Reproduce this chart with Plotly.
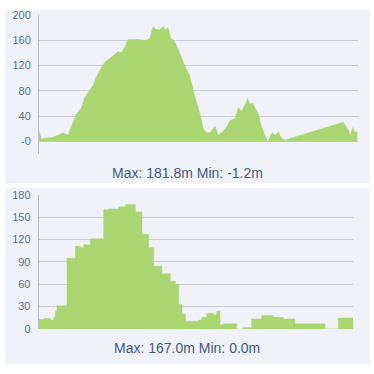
import plotly.graph_objects as go

# ---- data ----
top_dist = [0, 2.3, 5.7, 12.3, 19, 24, 29, 32.3, 37.3, 42.3,
            45.7, 50.7, 54, 57.3, 62.3, 65.7, 70.7, 75.7, 79, 82.3,
            85.7, 89, 99, 107.3, 110.7, 114, 117.3, 120.7, 124, 126.3,
            129, 131.7, 135.7, 140.7, 145.7, 150.7, 156, 161, 164.3, 167.7,
            171, 176, 179.3, 182.7, 187.7, 191, 196, 199.3, 202.7, 206,
            208.7, 211, 213.3, 216, 219.3, 222.7, 226, 228.7, 231, 233.3,
            236, 239.3, 242, 244.3, 246, 304.3, 309.3, 311.3, 313.7, 315.3,
            318.3]
top_elev = [17, 3.5, 5, 6, 10, 13.7, 10, 23, 43, 53,
            69, 81, 88, 102, 117, 125, 131, 137, 142, 140,
            148, 161, 161, 159, 163, 181, 177, 176, 181.8, 175,
            180, 163, 158, 140, 120, 104, 70, 43, 20, 14,
            14, 24, 10, 14, 23, 33, 36, 53, 48, 58,
            68, 58, 61, 53, 43, 23, 8, -1.2, 8, 14,
            10, 15, 6, 4, 2.5, 30.5, 18, 9, 22, 15,
            15]

bot_dist = [0, 5, 11.7, 15, 16.7, 18.3, 28.3, 36.7, 41.7, 45,
            51.7, 65, 70, 80, 86.7, 96.7, 103.3, 110, 115, 123.3,
            131.7, 136.7, 140, 143.3, 146.7, 159.6, 163, 168, 174.6, 178,
            181.3, 184.6, 198, 204.6, 213, 223, 234.6, 244.6, 256.3, 286.3,
            299.6, 314.3]
bot_elev = [12.6, 14, 12, 16, 24, 31, 95, 111, 109, 113,
            121, 160, 161, 164, 167, 157, 127, 109, 84, 74,
            64, 60, 33, 20, 10.5, 12, 15.6, 21, 19, 24,
            5.7, 7, 0, 1.8, 13.5, 18, 15.6, 13.5, 7, 0,
            14.8, 14.8]

top_ticks = [0, 40, 80, 120, 160, 200]
top_ticktext = ["-0", "40", "80", "120", "160", "200"]
bot_ticks = [0, 30, 60, 90, 120, 150, 180]

top_caption = "Max: 181.8m Min: -1.2m"
bot_caption = "Max: 167.0m Min: 0.0m"

# ---- style ----
W = H = 374
PANEL = "#eff3f9"
GREEN = "#aad671"
GRID = "#c9cdd6"
TICK = "#5d6d8c"
CAPTION = "#45597e"
FONT = "Liberation Sans, Arial, sans-serif"

def px(v):
    return v / W

def py(v):
    return 1 - v / H

fig = go.Figure()
fig.add_trace(go.Scatter(x=top_dist, y=top_elev, mode="lines", fill="tozeroy",
                         line=dict(color=GREEN, width=0.5), fillcolor=GREEN,
                         xaxis="x", yaxis="y", hoverinfo="skip"))
fig.add_trace(go.Scatter(x=bot_dist, y=bot_elev, mode="lines", fill="tozeroy",
                         line=dict(color=GREEN, width=0.5, shape="hv"), fillcolor=GREEN,
                         xaxis="x2", yaxis="y2", hoverinfo="skip"))

yax_common = dict(showgrid=True, gridcolor=GRID, gridwidth=1, zeroline=False,
                  showline=True, linecolor="#b9bdc6", linewidth=1,
                  ticks="outside", ticklen=5, tickcolor="rgba(0,0,0,0)",
                  tickfont=dict(family=FONT, size=11, color=TICK), fixedrange=True)
xax_common = dict(showgrid=False, zeroline=False, showline=False,
                  showticklabels=False, ticks="", fixedrange=True)

fig.update_layout(
    width=W, height=H,
    margin=dict(l=0, r=0, t=0, b=0),
    paper_bgcolor="white",
    plot_bgcolor=PANEL,
    showlegend=False,
    xaxis=dict(domain=[px(39), px(358)], range=[0, 319], anchor="y", **xax_common),
    yaxis=dict(domain=[py(153.1), py(9)], range=[-20, 200], anchor="x",
               tickvals=top_ticks, ticktext=top_ticktext, **yax_common),
    xaxis2=dict(domain=[px(38.7), px(353)], range=[0, 314.3], anchor="y2", **xax_common),
    yaxis2=dict(domain=[py(333.7), py(195)], range=[0, 180], anchor="x2",
                tickvals=bot_ticks, **yax_common),
    shapes=[
        dict(type="rect", xref="paper", yref="paper", x0=px(5), x1=px(370),
             y0=py(183), y1=py(4), fillcolor=PANEL, line=dict(width=0), layer="below"),
        dict(type="rect", xref="paper", yref="paper", x0=px(5), x1=px(370),
             y0=py(370), y1=py(188), fillcolor=PANEL, line=dict(width=0), layer="below"),
    ],
    annotations=[
        dict(text=top_caption, xref="paper", yref="paper", x=px(187), y=py(173),
             xanchor="center", yanchor="middle", showarrow=False,
             font=dict(family=FONT, size=14, color=CAPTION)),
        dict(text=bot_caption, xref="paper", yref="paper", x=px(187), y=py(353),
             xanchor="center", yanchor="middle", showarrow=False,
             font=dict(family=FONT, size=14, color=CAPTION)),
    ],
)

fig.write_html("out.html", config={"displayModeBar": False},
               post_script="document.body.style.margin='0';")
